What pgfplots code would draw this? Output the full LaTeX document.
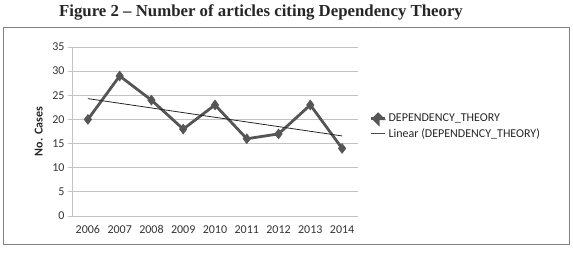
\documentclass[border=0pt]{standalone}
\usepackage{fontspec}
\setmainfont{Carlito}
\newfontfamily\titlefont{Liberation Serif}
\usepackage{pgfplots}
\pgfplotsset{compat=1.18}
\definecolor{seriesc}{RGB}{85,85,85}
\definecolor{gridc}{RGB}{195,195,195}
\definecolor{boxc}{RGB}{130,130,130}
\begin{document}
\begin{tikzpicture}[x=1pt,y=1pt]
\path[use as bounding box] (0,0) rectangle (573,254);
\node[font=\titlefont\bfseries\fontsize{16.8}{19}\selectfont, text=black!85] at (261,241.5) {Figure 2 \textendash{} Number of articles citing Dependency Theory};
\draw[boxc, line width=0.9pt] (3,10) rectangle (569,227);
\begin{axis}[
  at={(72pt,38pt)}, anchor=south west,
  scale only axis, width=286pt, height=169pt,
  xmin=-0.5, xmax=8.5, ymin=0, ymax=35,
  xtick={0,...,8},
  xticklabels={2006,2007,2008,2009,2010,2011,2012,2013,2014},
  ytick={0,5,...,35},
  axis x line*=bottom, axis y line*=left,
  axis line style={gridc, line width=0.8pt, -},
  ymajorgrids, grid style={gridc, line width=0.8pt},
  major tick length=4pt,
  xtick style={draw=none},
  ytick style={gridc, line width=0.8pt},
  tick align=outside,
  /pgf/number format/assume math mode=true,
  ticklabel style={font=\fontsize{12}{14}\selectfont, text=black!80},
  xticklabel style={text height=8pt, text depth=0pt, yshift=-2pt},
  ylabel={\textbf{No. Cases}},
  ylabel style={font=\fontsize{12}{14}\selectfont, text=black!85, at={(axis description cs:-0.09,0.5)}},
  legend style={draw=none, fill=none, at={(1.03,0.53)}, anchor=west,
    font=\fontsize{12}{14}\selectfont, text=black!85, row sep=1pt,
    legend cell align=left},
  legend image code/.code={\draw[#1] (0pt,0pt) -- (14pt,0pt);},
]
\addplot[seriesc, line width=2.8pt, mark=diamond*, mark size=5pt,
  mark options={fill=seriesc, draw=seriesc, line width=0.5pt},
  legend image code/.code={\draw[seriesc, line width=2.8pt] (0pt,0pt) -- (14pt,0pt); \fill[seriesc] (7pt,0pt) -- ++(4.5pt,0) -- ++(-4.5pt,4.5pt) -- ++(-4.5pt,-4.5pt) -- ++(4.5pt,-4.5pt) -- cycle;}]
  coordinates {(0,20) (1,29) (2,24) (3,18) (4,23) (5,16) (6,17) (7,23) (8,14)};
\addlegendentry{DEPENDENCY\_THEORY}
\addplot[black!85, line width=0.8pt, mark=none,
  legend image code/.code={\draw[black!70, line width=1.2pt] (0pt,0pt) -- (14pt,0pt);}]
  coordinates {(0,24.31) (8,16.58)};
\addlegendentry{Linear (DEPENDENCY\_THEORY)}
\end{axis}
\end{tikzpicture}
\end{document}
